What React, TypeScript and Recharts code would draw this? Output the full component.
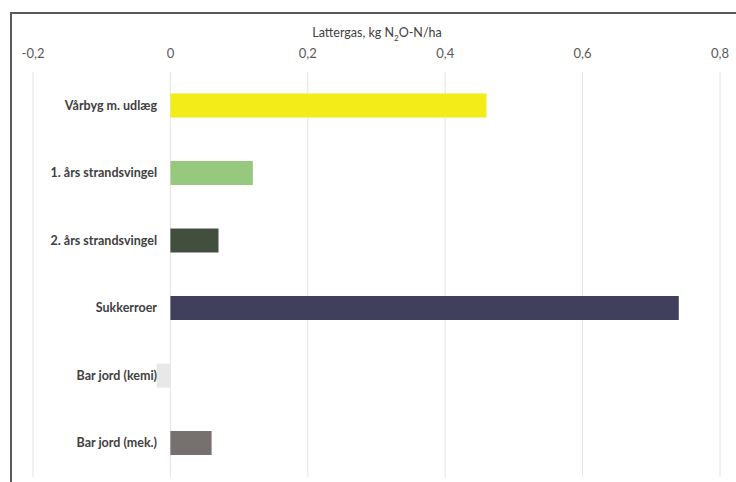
import { BarChart, Bar, XAxis, YAxis, CartesianGrid, Cell } from "recharts";

const categories = [
  "Vårbyg m. udlæg",
  "1. års strandsvingel",
  "2. års strandsvingel",
  "Sukkerroer",
  "Bar jord (kemi)",
  "Bar jord (mek.)",
];
const values = [0.46, 0.12, 0.07, 0.74, -0.02, 0.06];
const colors = ["#f3ec19", "#96c97e", "#424f3f", "#40405c", "#e8e8e8", "#76706e"];
const xTicks = [-0.2, 0, 0.2, 0.4, 0.6, 0.8];

const data = categories.map((name, i) => ({ name, value: values[i] }));

const font = "Lato, 'Open Sans', sans-serif";

function CategoryTick(props: any) {
  const { x, y, payload } = props;
  return (
    <text
      x={x + 124}
      y={y}
      dy={4}
      textAnchor="end"
      fontFamily={font}
      fontSize={12.5}
      fontWeight={700}
      fill="#404040"
    >
      {payload.value}
    </text>
  );
}

export default function App() {
  return (
    <div
      style={{
        position: "absolute",
        left: 10,
        top: 12,
        width: 726,
        height: 470,
        borderLeft: "2px solid #5a5a5a",
        borderTop: "2px solid #5a5a5a",
        background: "#fff",
      }}
    >
      <div
        style={{
          position: "absolute",
          left: 0,
          width: 730,
          top: 11,
          textAlign: "center",
          fontFamily: font,
          fontSize: 12.5,
          color: "#404040",
        }}
      >
        Lattergas, kg N<sub style={{ fontSize: 8 }}>2</sub>O-N/ha
      </div>
      <BarChart
        width={724}
        height={468}
        data={data}
        layout="vertical"
        margin={{ top: 28, right: 16, bottom: 5, left: 20 }}
        barCategoryGap="32%"
      >
        <CartesianGrid horizontal={false} stroke="#e4e4e4" />
        <XAxis
          type="number"
          orientation="top"
          domain={[-0.2, 0.8]}
          ticks={xTicks}
          axisLine={false}
          tickLine={false}
          tickSize={0}
          tickMargin={14}
          tickFormatter={(v: number) => String(v).replace(".", ",")}
          tick={{ fontFamily: font, fontSize: 13, fill: "#595959" }}
        />
        <YAxis
          type="category"
          dataKey="name"
          width={1}
          axisLine={false}
          tickLine={false}
          tickSize={0}
          tickMargin={0}
          interval={0}
          tick={(p: any) => <CategoryTick {...p} />}
        />
        <Bar dataKey="value" isAnimationActive={false}>
          {data.map((d, i) => (
            <Cell key={d.name} fill={colors[i]} />
          ))}
        </Bar>
      </BarChart>
    </div>
  );
}
